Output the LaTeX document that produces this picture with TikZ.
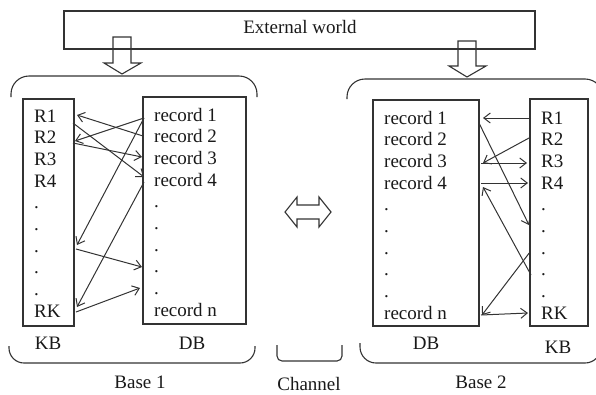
\documentclass[tikz,border=0pt]{standalone}
\usepackage{fontspec}
\setmainfont{Liberation Serif}
\usetikzlibrary{arrows.meta}
\begin{document}
\begin{tikzpicture}[x=1pt,y=-1pt,
  ln/.style={draw=black!80,line width=1.1pt},
  box/.style={draw=black!80,line width=1.2pt,inner sep=0pt},
  txt/.style={font=\fontsize{19}{22}\selectfont,inner sep=0pt,text=black!90},
  conn/.style={draw=black!80,line width=1pt,-{Straight Barb[length=6.5pt,width=10pt]}},
  ]
\useasboundingbox (0,0) rectangle (596,394);

% external world
\node[box,minimum width=471pt,minimum height=38pt] (ext) at (299.5,30) {};
\node[txt] (extlabel) at (300,27) {External world};

% block arrows down
\draw[ln,line join=miter] (113,37) -- (131,37) -- (131,63) -- (141,63) -- (122,74) -- (104,63) -- (113,63) -- cycle;
\draw[ln,line join=miter] (458,41) -- (476,41) -- (476,66) -- (486,66) -- (467,77) -- (449,66) -- (458,66) -- cycle;

% double arrow
\draw[ln,line join=miter] (285,212) -- (297,197) -- (297,205) -- (319,205) -- (319,197) -- (331,212) -- (319,227) -- (319,219) -- (297,219) -- (297,227) -- cycle;

% brackets
\begin{scope}
\clip (0,0) rectangle (596,394);
\draw[ln,rounded corners=18pt] (11,97) -- (11,76) -- (257,76) -- (257,97);
\draw[ln,rounded corners=15pt] (9,346) -- (9,363) -- (255,363) -- (255,346);
\draw[ln,rounded corners=5pt] (277,345) -- (277,361) -- (342,361) -- (342,345);
\draw[ln,rounded corners=18pt] (347,99) -- (347,79) -- (603,79) -- (603,99);
\draw[ln,rounded corners=16pt] (360,343) -- (360,363) -- (601,363) -- (601,343);
\end{scope}

% boxes
\node[box,minimum width=51pt,minimum height=227pt] (kbL) at (48.5,212.5) {};
\node[box,minimum width=103pt,minimum height=227pt] (dbL) at (194.5,210.5) {};
\node[box,minimum width=106pt,minimum height=226pt] (dbR) at (426,213) {};
\node[box,minimum width=58pt,minimum height=227pt] (kbR) at (559,212.5) {};

% texts
\foreach \t [count=\i from 0] in {R1,R2,R3,R4,.,.,.,.,.,RK}
  \node[txt,anchor=base west] (kl\i) at (34,122+21.7*\i) {\t};
\foreach \t [count=\i from 0] in {record 1,record 2,record 3,record 4,.,.,.,.,.,record n}
  \node[txt,anchor=base west] (dl\i) at (154,121+21.7*\i) {\t};
\foreach \t [count=\i from 0] in {record 1,record 2,record 3,record 4,.,.,.,.,.,record n}
  \node[txt,anchor=base west] (dr\i) at (384,124+21.7*\i) {\t};
\foreach \t [count=\i from 0] in {R1,R2,R3,R4,.,.,.,.,.,RK}
  \node[txt,anchor=base west] (kr\i) at (541,124+21.7*\i) {\t};

\node[txt] (kbLlab) at (48,343) {KB};
\node[txt] (dbLlab) at (192,343) {DB};
\node[txt] (base1) at (140,382) {Base 1};
\node[txt] (chan) at (309,384) {Channel};
\node[txt] (dbRlab) at (426,343) {DB};
\node[txt] (kbRlab) at (558,347) {KB};
\node[txt] (base2) at (481,382) {Base 2};

% connector endpoints, left
\coordinate (a1) at (143,136); \coordinate (b1) at (77,115);
\coordinate (a2) at (144,118); \coordinate (b2) at (75,141);
\coordinate (a3) at (73,123);  \coordinate (b3) at (144,177);
\coordinate (a4) at (73,143);  \coordinate (b4) at (142,157);
\coordinate (a5) at (144,118); \coordinate (b5) at (77,245);
\coordinate (a6) at (144,182); \coordinate (b6) at (77,307);
\coordinate (a7) at (76,249);  \coordinate (b7) at (142,267);
\coordinate (a8) at (76,312);  \coordinate (b8) at (140,288);
\foreach \k in {1,...,8} \draw[conn] (a\k) -- (b\k);

% connector endpoints, right
\coordinate (c1) at (531,118); \coordinate (d1) at (483,118);
\coordinate (c2) at (529,138); \coordinate (d2) at (483,163);
\coordinate (c3) at (481,163); \coordinate (d3) at (527,163);
\coordinate (c4) at (481,183); \coordinate (d4) at (528,183);
\coordinate (c5) at (479,123); \coordinate (d5) at (529,225);
\coordinate (c6) at (531,275); \coordinate (d6) at (483,187);
\coordinate (c7) at (530,252); \coordinate (d7) at (482,315);
\coordinate (c8) at (481,315); \coordinate (d8) at (528,313);
\foreach \k in {1,...,8} \draw[conn] (c\k) -- (d\k);
\end{tikzpicture}
\end{document}
